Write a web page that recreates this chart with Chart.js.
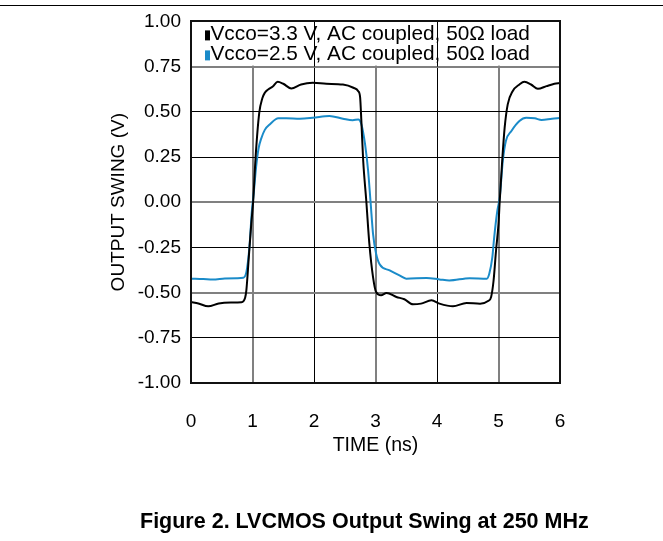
<!DOCTYPE html>
<html>
<head>
<meta charset="utf-8">
<title>LVCMOS Output Swing</title>
<script src="https://cdn.jsdelivr.net/npm/chart.js@4.4.1/dist/chart.umd.min.js"></script>
<style>
  html, body { margin: 0; padding: 0; background: #fff; overflow: hidden; }
  #wrap { position: relative; width: 663px; height: 541px; }
  #rule { position: absolute; left: 0; top: 5px; width: 663px; height: 1px; background: #000; }
  #caption {
    position: absolute; left: 140px; top: 509px;
    font: bold 21.5px/25px "Liberation Sans", Arial, Helvetica, sans-serif;
    color: #000; white-space: nowrap;
  }
</style>
</head>
<body>
<div id="wrap">
  <div id="rule"></div>
  <canvas id="swing-chart" width="663" height="541"></canvas>
  <div id="caption">Figure 2. LVCMOS Output Swing at 250 MHz</div>
</div>
<script>
// Axis ticks
const timeTicks = [0, 1, 2, 3, 4, 5, 6];
const swingTicks = [-1, -0.75, -0.5, -0.25, 0, 0.25, 0.5, 0.75, 1];

const seriesLabels = [
  'Vcco=3.3 V, AC coupled, 50Ω load',
  'Vcco=2.5 V, AC coupled, 50Ω load'
];

// Vcco = 3.3 V trace (time in ns, swing in V)
const time33 = [0, 0.12, 0.28, 0.45, 0.65, 0.82, 0.88, 0.90, 0.94, 0.98, 1.01, 1.05, 1.11, 1.16, 1.20, 1.26, 1.33, 1.41, 1.50, 1.63, 1.79, 1.98, 2.20, 2.47, 2.64, 2.72, 2.75, 2.77, 2.80, 2.85, 2.90, 2.96, 3.01, 3.09, 3.18, 3.34, 3.47, 3.61, 3.74, 3.91, 4.04, 4.26, 4.48, 4.70, 4.83, 4.88, 4.92, 4.96, 5.00, 5.02, 5.06, 5.10, 5.15, 5.23, 5.34, 5.42, 5.53, 5.64, 5.78, 5.91, 6.0];
const swing33 = [-0.552, -0.56, -0.576, -0.56, -0.555, -0.553, -0.528, -0.488, -0.304, -0.12, 0.0, 0.247, 0.495, 0.575, 0.605, 0.625, 0.64, 0.666, 0.655, 0.629, 0.651, 0.66, 0.655, 0.651, 0.633, 0.614, 0.58, 0.45, 0.229, 0.008, -0.229, -0.414, -0.497, -0.515, -0.502, -0.524, -0.537, -0.565, -0.561, -0.543, -0.561, -0.576, -0.557, -0.561, -0.547, -0.524, -0.433, -0.267, -0.12, 0.008, 0.229, 0.412, 0.541, 0.614, 0.651, 0.666, 0.651, 0.627, 0.642, 0.655, 0.66];

// Vcco = 2.5 V trace
const time25 = [0, 0.2, 0.35, 0.55, 0.75, 0.85, 0.90, 0.95, 0.99, 1.02, 1.06, 1.10, 1.14, 1.20, 1.28, 1.42, 1.55, 1.77, 1.98, 2.25, 2.47, 2.63, 2.72, 2.77, 2.83, 2.88, 2.92, 2.96, 3.01, 3.07, 3.23, 3.39, 3.50, 3.83, 4.04, 4.20, 4.53, 4.81, 4.85, 4.90, 4.93, 4.98, 5.02, 5.07, 5.12, 5.21, 5.34, 5.45, 5.59, 5.70, 5.87, 6.0];
const swing25 = [-0.423, -0.425, -0.428, -0.422, -0.42, -0.418, -0.387, -0.249, -0.047, 0.05, 0.2, 0.3, 0.35, 0.4, 0.43, 0.464, 0.464, 0.462, 0.467, 0.477, 0.462, 0.453, 0.458, 0.431, 0.321, 0.174, 0.0, -0.175, -0.285, -0.345, -0.377, -0.405, -0.423, -0.419, -0.427, -0.433, -0.42, -0.423, -0.396, -0.304, -0.194, -0.05, 0.026, 0.229, 0.339, 0.394, 0.449, 0.467, 0.464, 0.455, 0.462, 0.466];

// grid lines drawn in lighter grey
const fadedTimes = [1, 3, 5];
const fadedSwings = [0.75, 0, -0.5];

const FONT = '"Liberation Sans", Arial, Helvetica, sans-serif';
Chart.defaults.font.family = FONT;
Chart.defaults.color = '#000';

function toPoints(xs, ys) {
  return xs.map((x, i) => ({ x: x, y: ys[i] }));
}

function alignPx(px, w) {
  return Math.round(px - w / 2) + w / 2;
}

// White legend band at the top of the plot, with the two entries
const legendBand = {
  id: 'legendBand',
  beforeDatasetsDraw(chart) {
    const { ctx, chartArea: a, scales: { x, y } } = chart;
    const bandBottom = y.getPixelForValue(0.75);
    ctx.save();
    ctx.fillStyle = '#fff';
    ctx.fillRect(a.left, a.top, a.right - a.left, bandBottom - 1 - a.top);

    // solid grid lines run through the band
    ctx.strokeStyle = '#000';
    ctx.lineWidth = 1;
    timeTicks.filter(t => !fadedTimes.includes(t) && t > 0 && t < 6).forEach(t => {
      const px = alignPx(x.getPixelForValue(t), 1);
      ctx.beginPath();
      ctx.moveTo(px, a.top);
      ctx.lineTo(px, bandBottom);
      ctx.stroke();
    });

    ctx.font = '20.8px ' + FONT;
    ctx.textBaseline = 'alphabetic';
    chart.data.datasets.forEach((ds, i) => {
      const base = a.top + 19 + i * 20;
      ctx.fillStyle = ds.borderColor;
      ctx.fillRect(a.left + 14, base - 10, 5, 10);
      ctx.fillStyle = '#000';
      ctx.fillText(ds.label, a.left + 19.5, base);
    });
    ctx.restore();
  },
  afterDatasetsDraw(chart) {
    const { ctx, chartArea: a } = chart;
    ctx.save();
    ctx.strokeStyle = '#111';
    ctx.lineWidth = 2;
    ctx.strokeRect(Math.round(a.left), Math.round(a.top), Math.round(a.right - a.left), Math.round(a.bottom - a.top));
    ctx.restore();
  }
};

new Chart(document.getElementById('swing-chart'), {
  type: 'line',
  data: {
    datasets: [
      {
        label: seriesLabels[0],
        data: toPoints(time33, swing33),
        borderColor: '#000',
        borderWidth: 2,
        pointRadius: 0,
        cubicInterpolationMode: 'monotone'
      },
      {
        label: seriesLabels[1],
        data: toPoints(time25, swing25),
        borderColor: '#1a8bc9',
        borderWidth: 2,
        pointRadius: 0,
        cubicInterpolationMode: 'monotone'
      }
    ]
  },
  options: {
    responsive: false,
    animation: false,
    events: [],
    layout: { padding: { left: 0, right: 103, top: 20, bottom: 0 } },
    plugins: {
      legend: { display: false },
      tooltip: { enabled: false },
      title: { display: false }
    },
    scales: {
      x: {
        type: 'linear',
        min: 0,
        max: 6,
        afterBuildTicks: s => { s.ticks = timeTicks.map(v => ({ value: v })); },
        afterFit: s => { s.height = 158; },
        grid: {
          drawTicks: false,
          color: c => fadedTimes.includes(c.tick.value) ? '#808080' : '#000',
          lineWidth: c => fadedTimes.includes(c.tick.value) ? 2 : 1
        },
        border: { display: false },
        ticks: {
          padding: 27,
          font: { size: 19 },
          color: '#000',
          maxRotation: 0
        },
        title: {
          display: true,
          text: 'TIME (ns)',
          color: '#000',
          font: { size: 19.5 },
          padding: { top: 0, bottom: 84 }
        }
      },
      y: {
        min: -1,
        max: 1,
        afterBuildTicks: s => { s.ticks = swingTicks.map(v => ({ value: v })); },
        afterFit: s => { s.width = 191; },
        grid: {
          drawTicks: false,
          color: c => fadedSwings.includes(c.tick.value) ? '#808080' : '#000',
          lineWidth: c => fadedSwings.includes(c.tick.value) ? 2 : 1
        },
        border: { display: false },
        ticks: {
          padding: 10,
          font: { size: 19 },
          color: '#000',
          callback: v => Number(v).toFixed(2)
        },
        title: {
          display: true,
          text: 'OUTPUT SWING (V)',
          color: '#000',
          font: { size: 19 },
          padding: { top: 107, bottom: 0 }
        }
      }
    }
  },
  plugins: [legendBand]
});
</script>
</body>
</html>
